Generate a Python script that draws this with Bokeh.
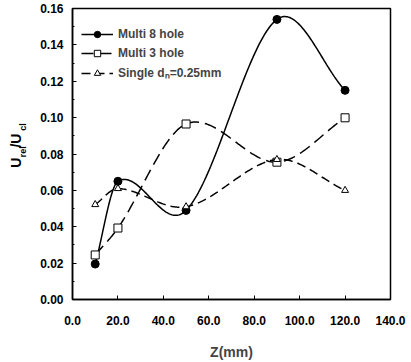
import numpy as np
from bokeh.plotting import figure
from bokeh.layouts import row
from bokeh.models import Label, FixedTicker, Range1d
from bokeh.embed import file_html
from bokeh.resources import INLINE

# ---- data ----
z_mm = [10, 20, 50, 90, 120]
multi8 = [0.0195, 0.065, 0.049, 0.154, 0.115]
multi3 = [0.0245, 0.0393, 0.0965, 0.0755, 0.0999]
single = [0.0522, 0.0610, 0.0510, 0.0770, 0.0600]
x_ticks = [0, 20, 40, 60, 80, 100, 120, 140]
y_ticks = [0.00, 0.02, 0.04, 0.06, 0.08, 0.10, 0.12, 0.14, 0.16]


def smooth_curve(x, y, n=60):
    """Catmull-Rom style cubic Hermite curve through the data points."""
    x = np.asarray(x, float); y = np.asarray(y, float)
    k = len(x)
    m = np.empty(k)
    m[0] = (y[1] - y[0]) / (x[1] - x[0])
    m[-1] = (y[-1] - y[-2]) / (x[-1] - x[-2])
    for i in range(1, k - 1):
        m[i] = (y[i + 1] - y[i - 1]) / (x[i + 1] - x[i - 1])
    xs_all, ys_all = [], []
    for i in range(k - 1):
        h = x[i + 1] - x[i]
        t = np.linspace(0, 1, n)
        h00 = 2 * t**3 - 3 * t**2 + 1
        h10 = t**3 - 2 * t**2 + t
        h01 = -2 * t**3 + 3 * t**2
        h11 = t**3 - t**2
        xs_all.append(x[i] + t * h)
        ys_all.append(h00 * y[i] + h10 * h * m[i] + h01 * y[i + 1] + h11 * h * m[i + 1])
    return np.concatenate(xs_all), np.concatenate(ys_all)


FONT = "Liberation Sans"
H = 362
p = figure(width=381, height=H, output_backend="svg", toolbar_location=None,
           x_range=Range1d(0, 140), y_range=Range1d(0, 0.16),
           min_border_left=42, min_border_right=21, min_border_top=8, min_border_bottom=61)
p.xgrid.visible = False
p.ygrid.visible = False
p.outline_line_color = "black"
p.outline_line_width = 1.5

for ax in (p.xaxis[0], p.yaxis[0]):
    ax.axis_line_width = 1.5
    ax.major_tick_in = 4
    ax.major_tick_out = 0
    ax.minor_tick_in = 2
    ax.minor_tick_out = 0
    ax.major_label_text_font = FONT
    ax.major_label_text_font_style = "bold"
    ax.major_label_text_font_size = "12px"
    ax.major_label_text_color = "black"

p.xaxis.ticker = FixedTicker(ticks=x_ticks, minor_ticks=[])
p.yaxis.ticker = FixedTicker(ticks=y_ticks, minor_ticks=[v + 0.01 for v in y_ticks[:-1]])
p.xaxis.major_label_overrides = {t: f"{t:.1f}" for t in x_ticks}
p.yaxis.major_label_overrides = {t: f"{t:.2f}" for t in y_ticks}
p.xaxis.major_label_standoff = 16
p.yaxis.major_label_standoff = 9
p.xaxis.axis_label = "Z(mm)"
p.xaxis.axis_label_text_font = FONT
p.xaxis.axis_label_text_font_style = "bold"
p.xaxis.axis_label_text_font_size = "14px"
p.xaxis.axis_label_standoff = 16

# series
xs, ys = smooth_curve(z_mm, multi8)
p.line(xs, ys, line_color="black", line_width=1.5, legend_label="Multi 8 hole")
p.scatter(z_mm, multi8, marker="circle", size=8, fill_color="black", line_color="black",
          legend_label="Multi 8 hole")

xs, ys = smooth_curve(z_mm, multi3)
p.line(xs, ys, line_color="black", line_width=1.5, line_dash="12 6", legend_label="Multi 3 hole")
p.scatter(z_mm, multi3, marker="square", size=8, fill_color="white", line_color="black",
          legend_label="Multi 3 hole")

xs, ys = smooth_curve(z_mm, single)
p.line(xs, ys, line_color="black", line_width=1.5, line_dash="9 5", legend_label="Single d\u2099=0.25mm")
p.scatter(z_mm, single, marker="triangle", size=7, fill_color="white", line_color="black",
          legend_label="Single d\u2099=0.25mm")

lg = p.legend[0]
lg.location = (9, 218)
lg.margin = 0
lg.border_line_color = None
lg.background_fill_alpha = 0
lg.padding = 4
lg.spacing = 3
lg.glyph_width = 32
lg.glyph_height = 16
lg.label_height = 16
lg.label_standoff = 5
lg.label_text_font = FONT
lg.label_text_font_style = "bold"
lg.label_text_font_size = "12px"

# narrow side panel carrying the y-axis title U_rel / U_cl (with subscripts)
W_LAB = 30
lab = figure(width=W_LAB, height=H, output_backend="svg", toolbar_location=None,
             x_range=Range1d(0, W_LAB), y_range=Range1d(0, H),
             x_axis_type=None, y_axis_type=None,
             min_border_left=0, min_border_right=0, min_border_top=0, min_border_bottom=0)
lab.outline_line_color = None
lab.xgrid.visible = False
lab.ygrid.visible = False
y_base = H - 198
parts = [("U", 0, "14px", 15), ("rel", 13, "9px", 22), ("/U", 25, "14px", 15), ("cl", 46, "9px", 22)]
for txt, dy, fs, xc in parts:
    lab.add_layout(Label(x=xc, y=y_base + dy, text=txt, angle=np.pi / 2,
                         text_font=FONT, text_font_style="bold", text_font_size=fs,
                         text_baseline="middle", text_align="left", text_color="black"))

layout = row(lab, p, spacing=0)
open("out.html", "w").write(file_html(layout, INLINE))
